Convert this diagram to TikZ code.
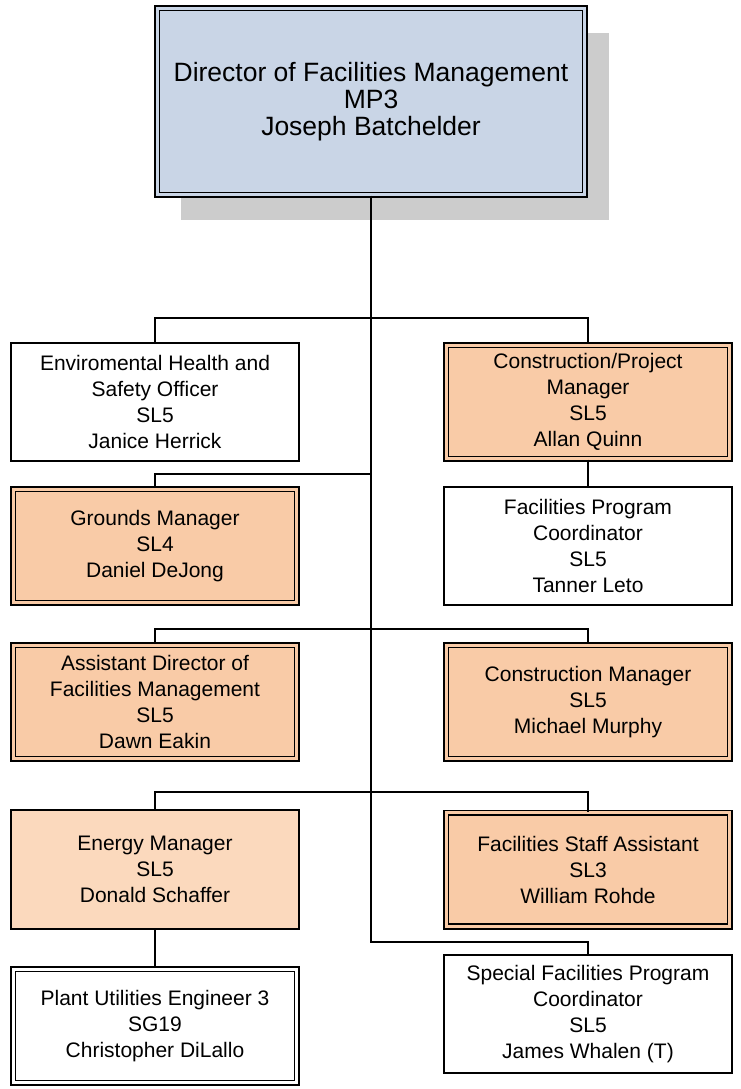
\documentclass[tikz,border=0pt]{standalone}
\usepackage{fontspec}
\setmainfont{Liberation Sans}
\usepackage{xcolor}
\usepackage{tikz}
\usetikzlibrary{shadows}

\definecolor{dirblue}{HTML}{C9D5E6}
\definecolor{mgrpeach}{HTML}{F9CBA7}
\definecolor{enrpeach}{HTML}{FBD9BD}
\definecolor{shadegrey}{HTML}{CCCCCC}

\tikzset{
    post/.style={draw=black, align=center, inner sep=0pt,
                 font=\fontsize{21}{26}\selectfont},
    plainpost/.style={post, line width=1.6pt, fill=#1,
                      minimum width=288pt, minimum height=118.5pt},
    plainpost/.default=white,
    twinpost/.style={post, line width=1.6pt, double=#1, double distance=3.2pt, fill=#1,
                     minimum width=283.6pt, minimum height=113.6pt},
    tree/.style={line width=1.3pt}
}

\begin{document}
\begin{tikzpicture}[x=1pt, y=-1pt]
    \useasboundingbox (0, 0) rectangle (741, 1089);

    % director with its grey shadow
    \node[twinpost=dirblue, minimum width=427.6pt, minimum height=186.6pt,
          font=\fontsize{26.5}{26.7}\selectfont,
          general shadow={fill=shadegrey, shadow xshift=24pt, shadow yshift=-25pt}]
        (dir) at (371, 101.5) {Director of Facilities Management\\MP3\\Joseph Batchelder};

    \node[plainpost] (ehs) at (155, 402) {Enviromental Health and\\Safety Officer\\SL5\\Janice Herrick};
    \node[twinpost=mgrpeach] (cpm) at (588, 402) {Construction/Project\\Manager\\SL5\\Allan Quinn};
    \node[twinpost=mgrpeach] (grd) at (155, 546) {Grounds Manager\\SL4\\Daniel DeJong};
    \node[plainpost] (fpc) at (588, 546) {Facilities Program\\Coordinator\\SL5\\Tanner Leto};
    \node[twinpost=mgrpeach] (adir) at (155, 702) {Assistant Director of\\Facilities Management\\SL5\\Dawn Eakin};
    \node[twinpost=mgrpeach] (cmgr) at (588, 702) {Construction Manager\\SL5\\Michael Murphy};
    \node[plainpost=enrpeach] (enr) at (155, 869.5) {Energy Manager\\SL5\\Donald Schaffer};
    \node[twinpost=mgrpeach] (fsa) at (588, 869.5) {Facilities Staff Assistant\\SL3\\William Rohde};
    \node[twinpost=white] (pue) at (155, 1026) {Plant Utilities Engineer 3\\SG19\\Christopher DiLallo};
    \node[plainpost] (sfpc) at (588, 1014) {Special Facilities Program\\Coordinator\\SL5\\James Whalen (T)};

    % junctions on the trunk
    \coordinate (j1) at (371, 318);
    \coordinate (j2) at (371, 474);
    \coordinate (j3) at (371, 629);
    \coordinate (j4) at (371, 792);
    \coordinate (j5) at (371, 942);

    \draw[tree] (dir.south) -- (j5) -| (sfpc.north);
    \draw[tree] (j1) -| (ehs.north);
    \draw[tree] (j1) -| (cpm.north);
    \draw[tree] (j2) -| (grd.north);
    \draw[tree] (cpm) -- (fpc);
    \draw[tree] (j3) -| (adir.north);
    \draw[tree] (j3) -| (cmgr.north);
    \draw[tree] (j4) -| (enr.north);
    \draw[tree] (j4) -| (fsa.north);
    \draw[tree] (enr) -- (pue);
\end{tikzpicture}
\end{document}
